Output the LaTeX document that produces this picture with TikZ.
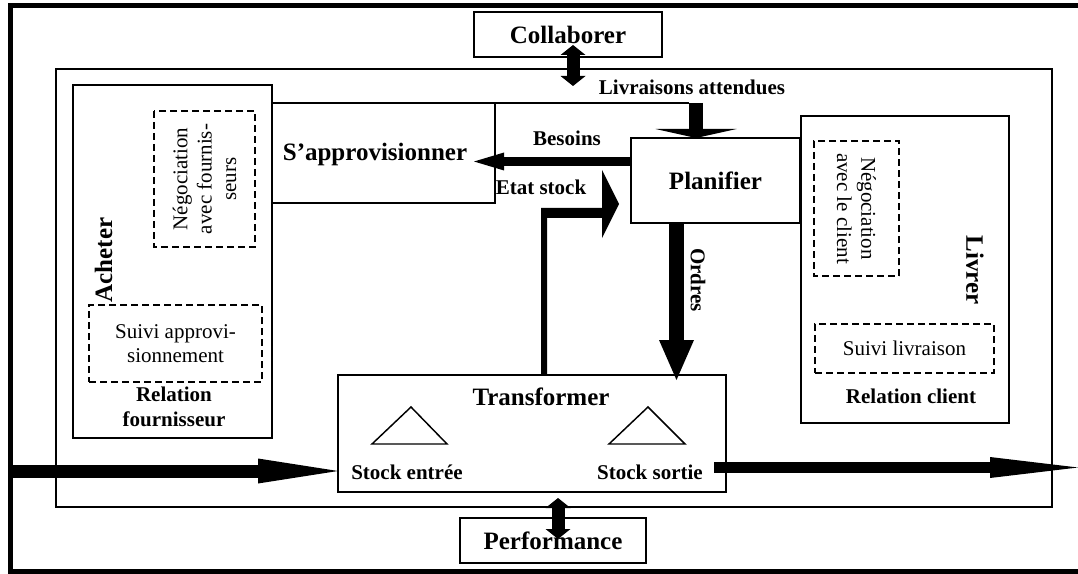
\documentclass[tikz,border=0pt]{standalone}
\usepackage{fontspec}
\setmainfont{Liberation Serif}
\usetikzlibrary{arrows.meta}
\newcommand\myTitleFont{\fontsize{18.75}{22}\selectfont\bfseries}
\newcommand\myLabFont{\fontsize{15.75}{18.75}\selectfont\bfseries}
\newcommand\myNormFont{\fontsize{15.75}{18.25}\selectfont}
\tikzset{
  box/.style={draw, line width=1.1pt, inner sep=0pt, outer sep=0pt},
  dbox/.style={draw, line width=1.1pt, dash pattern=on 5.25pt off 3pt, inner sep=0pt, outer sep=0pt, align=center, font=\myNormFont},
  ttl/.style={font=\myTitleFont, inner sep=0pt},
  lab/.style={font=\myLabFont, inner sep=0pt, align=center},
  tri/.style={draw, line width=1.1pt, line join=miter},
  fat/.style={line width=#1, line cap=butt},
}
\begin{document}
\begin{tikzpicture}[x=0.75pt, y=-0.75pt]
\useasboundingbox (0,0) rectangle (1078,574);
% outer frame
\draw[line width=3.75pt, line join=miter] (1078,5.5) -- (10.5,5.5) -- (10.5,571.5) -- (1078,571.5);
% boxes
\node[box, font=\myTitleFont, minimum width=141pt, minimum height=33.75pt] (collab) at (568,34.5) {Collaborer};
\node[box, minimum width=747pt, minimum height=328.5pt] (inner) at (554,288) {};
\node[box, minimum width=149.25pt, minimum height=264.75pt] (acheter) at (172.5,261.5) {};
\node[dbox, rotate=90, minimum width=102pt, minimum height=75.75pt] (negf) at (204.5,179) {Négociation\\avec fournis-\\seurs};
\node[dbox, minimum width=129.75pt, minimum height=57.75pt] (suivia) at (175.5,343.5) {Suivi approvi-\\sionnement};
\node[ttl, rotate=90] (acheterlab) at (103.5,260) {Acheter};
\node[lab] (relf) at (174,407) {Relation\\fournisseur};
\node[box, minimum width=167.25pt, minimum height=75pt] (sappro) at (383.5,153) {};
\node[ttl] (sapprolab) at (375,154) {S’approvisionner};
\node[box, font=\myTitleFont, minimum width=126.75pt, minimum height=63.75pt] (planif) at (715.5,180.5) {Planifier};
\node[box, minimum width=156pt, minimum height=230.25pt] (livrer) at (905,269.5) {};
\node[dbox, rotate=-90, minimum width=101.25pt, minimum height=63.75pt] (negc) at (856.5,208.5) {Négociation\\avec le client};
\node[ttl, rotate=-90] (livrerlab) at (975,270) {Livrer};
\node[dbox, minimum width=134.25pt, minimum height=36.75pt] (suivil) at (904.5,348.5) {Suivi livraison};
\node[lab] (relc) at (911,396) {Relation client};
\node[box, minimum width=291pt, minimum height=87.75pt] (transf) at (532,433.5) {};
\node[ttl] (transflab) at (541,397) {Transformer};
\draw[tri] (372,444) -- (411,407) -- (447,444) -- cycle;
\draw[tri] (609,444) -- (648,407) -- (685,444) -- cycle;
\node[lab] (se) at (407,472) {Stock entrée};
\node[lab] (ss) at (650,472) {Stock sortie};
\node[box, font=\myTitleFont, minimum width=139.5pt, minimum height=33.75pt] (perf) at (553,540.5) {Performance};
% labels
\node[lab] (livlab) at (692,87) {Livraisons attendues};
\node[lab] (beslab) at (567,138) {Besoins};
\node[lab] (etatlab) at (541,187) {Etat stock};
\node[lab, rotate=-90] (ordlab) at (698,280) {Ordres};
% coordinates
\coordinate (ca1) at (573,45);
\coordinate (ca2) at (573,86);
\coordinate (pa1) at (558,498);
\coordinate (pa2) at (558,539);
\coordinate (livtop) at (696,103);
\coordinate (bes) at (474,161.5);
\coordinate (ord) at (676.5,380);
\coordinate (inA) at (10.5,471);
\coordinate (outA) at (714,467.5);
\coordinate (outB) at (1078,467.5);
% connectors
\draw[fat=9.75pt, {Triangle[length=7.5pt,width=18.75pt,line width=0pt]}-{Triangle[length=7.5pt,width=18.75pt,line width=0pt]}] (ca1) -- (ca2);
\draw[fat=9.75pt, {Triangle[length=7.5pt,width=18.75pt,line width=0pt]}-{Triangle[length=7.5pt,width=18.75pt,line width=0pt]}] (pa1) -- (pa2);
\draw[line width=1.1pt] (sappro.north east) -- (689,103);
\draw[fat=10.5pt, -{Triangle[length=6.75pt,width=60.75pt,line width=0pt]}] (livtop) -- (planif.north -| livtop);
\draw[fat=7pt, -{Triangle[length=22.5pt,width=13.5pt,line width=0pt]}] (planif.west |- bes) -- (bes);
\fill (541,375) -- (541,208) -- (602,208) -- (602,170) -- (619,204) -- (602,238) -- (602,218) -- (547,218) -- (547,375) -- cycle;
\draw[fat=11.25pt, -{Triangle[length=30pt,width=26.25pt,line width=0pt]}] (planif.south -| ord) -- (ord);
\draw[fat=9.75pt, -{Triangle[length=60pt,width=18.75pt,line width=0pt]}] (inA) -- (transf.west |- inA);
\draw[fat=8.25pt, -{Triangle[length=66pt,width=15.75pt,line width=0pt]}] (outA) -- (outB);
\end{tikzpicture}
\end{document}
